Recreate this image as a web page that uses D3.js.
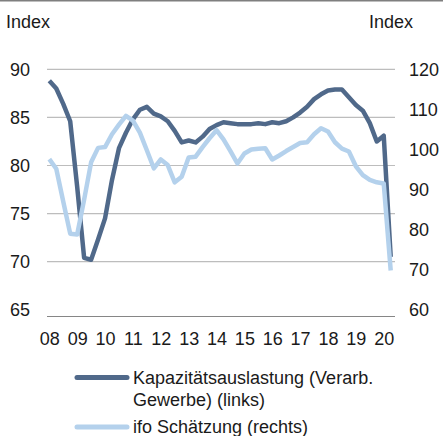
<!DOCTYPE html>
<html>
<head>
<meta charset="utf-8">
<script src="https://cdn.jsdelivr.net/npm/d3@7"></script>
<style>
  body { margin: 0; background: #fff; }
  svg { display: block; font-family: "Liberation Sans", Arial, sans-serif; }
</style>
</head>
<body>
<svg id="chart" width="443" height="436"></svg>
<script>
// quarterly values, 2008 Q1 .. 2020 Q2
let kapa = [
    88.8, 88.0, 86.4, 84.6, 77.8, 70.4, 70.2, 72.3, 74.5, 78.5,
    81.8, 83.4, 84.8, 85.8, 86.1, 85.4, 85.1, 84.6, 83.6, 82.4,
    82.6, 82.4, 83.0, 83.8, 84.2, 84.5, 84.4, 84.3, 84.3, 84.3,
    84.4, 84.3, 84.5, 84.4, 84.6, 85.0, 85.5, 86.1, 86.9, 87.4,
    87.8, 87.9, 87.9, 87.1, 86.3, 85.7, 84.4, 82.5, 83.1, 70.5
];
let ifo = [
    97.6, 95.2, 87.0, 79.0, 78.8, 87.5, 96.8, 100.4, 100.6, 103.8,
    106.2, 108.4, 107.2, 104.2, 99.8, 95.3, 97.5, 96.1, 91.8, 93.2,
    98.0, 98.2, 100.6, 102.8, 104.8, 102.5, 99.6, 96.5, 99.0, 100.0,
    100.2, 100.3, 97.5, 98.5, 99.6, 100.6, 101.6, 101.8, 103.8, 105.3,
    104.5, 101.8, 100.2, 99.5, 95.8, 93.6, 92.4, 91.8, 91.5, 69.8
];
let yearLabels = ["08", "09", "10", "11", "12", "13", "14", "15", "16", "17", "18", "19", "20"];
let leftTicks = [65, 70, 75, 80, 85, 90];
let rightTicks = [60, 70, 80, 90, 100, 110, 120];
let legendItems = [
    {lines: ["Kapazitätsauslastung (Verarb.", "Gewerbe) (links)"], color: "#50698a"},
    {lines: ["ifo Schätzung (rechts)"], color: "#b4d1ec"}
];

let svg = d3.select("#chart");

let x = d3.scaleLinear().domain([2008, 2020.25]).range([49.3, 390.7]);
let yL = d3.scaleLinear().domain([65, 90]).range([309.8, 69.3]);
let yR = d3.scaleLinear().domain([60, 120]).range([309.8, 69.3]);

let plotLeft = 47, plotRight = 395;

// top rule
svg.append("line")
    .attr("x1", 0).attr("x2", 443)
    .attr("y1", 0.5).attr("y2", 0.5)
    .attr("stroke", "#7f7f7f").attr("stroke-width", 2);

svg.append("text").attr("x", 6).attr("y", 28)
    .attr("font-size", 18).attr("fill", "#1a1a1a").text("Index");
svg.append("text").attr("x", 413).attr("y", 28).attr("text-anchor", "end")
    .attr("font-size", 18).attr("fill", "#1a1a1a").text("Index");

// gridlines
svg.append("g").selectAll("line")
    .data(leftTicks.filter(d => d > 65)).enter().append("line")
    .attr("x1", plotLeft).attr("x2", plotRight)
    .attr("y1", d => yL(d)).attr("y2", d => yL(d))
    .attr("stroke", "#bdbdbd").attr("stroke-width", 1.2);

// bottom axis line
svg.append("line")
    .attr("x1", plotLeft).attr("x2", plotRight)
    .attr("y1", 316.5).attr("y2", 316.5)
    .attr("stroke", "#868686").attr("stroke-width", 1.2);

// left axis
let leftAxis = svg.append("g")
    .attr("transform", "translate(30,0)")
    .call(d3.axisLeft(yL).tickValues(leftTicks).tickSize(0).tickPadding(0));
leftAxis.select(".domain").remove();
leftAxis.selectAll("text")
    .attr("font-size", 18).attr("font-family", "Liberation Sans, Arial, sans-serif")
    .attr("fill", "#1a1a1a");

// right axis
let rightAxis = svg.append("g")
    .attr("transform", "translate(409,0)")
    .call(d3.axisRight(yR).tickValues(rightTicks).tickSize(0).tickPadding(0));
rightAxis.select(".domain").remove();
rightAxis.selectAll("text")
    .attr("font-size", 18).attr("font-family", "Liberation Sans, Arial, sans-serif")
    .attr("fill", "#1a1a1a");

// x axis labels
let xAxis = svg.append("g")
    .attr("transform", "translate(0,332)")
    .call(d3.axisBottom(x)
        .tickValues(yearLabels.map((d, i) => 2008 + i))
        .tickFormat((d, i) => yearLabels[i])
        .tickSize(0).tickPadding(0));
xAxis.select(".domain").remove();
xAxis.selectAll("text")
    .attr("font-size", 18).attr("font-family", "Liberation Sans, Arial, sans-serif")
    .attr("fill", "#1a1a1a");

// lines
let lineL = d3.line()
    .x((d, i) => x(2008 + i / 4))
    .y(d => yL(d));
let lineR = d3.line()
    .x((d, i) => x(2008 + i / 4))
    .y(d => yR(d));

svg.append("path").datum(kapa)
    .attr("d", lineL)
    .attr("fill", "none")
    .attr("stroke", legendItems[0].color)
    .attr("stroke-width", 4.5)
    .attr("stroke-linejoin", "round");

svg.append("path").datum(ifo)
    .attr("d", lineR)
    .attr("fill", "none")
    .attr("stroke", legendItems[1].color)
    .attr("stroke-width", 4.5)
    .attr("stroke-linejoin", "round");

// legend
let legY = [377.5, 427];
let leg = svg.append("g").selectAll("g")
    .data(legendItems).enter().append("g")
    .attr("transform", (d, i) => "translate(0," + legY[i] + ")");
leg.append("line")
    .attr("x1", 77).attr("x2", 127)
    .attr("y1", 0).attr("y2", 0)
    .attr("stroke", d => d.color)
    .attr("stroke-width", 5)
    .attr("stroke-linecap", "round");
leg.each(function(d) {
    let t = d3.select(this).append("text")
        .attr("x", 133).attr("y", 6)
        .attr("font-size", 18).attr("fill", "#1a1a1a");
    d.lines.forEach((s, j) => {
        t.append("tspan").attr("x", 133).attr("dy", j === 0 ? 0 : 22.5).text(s);
    });
});
</script>
</body>
</html>
